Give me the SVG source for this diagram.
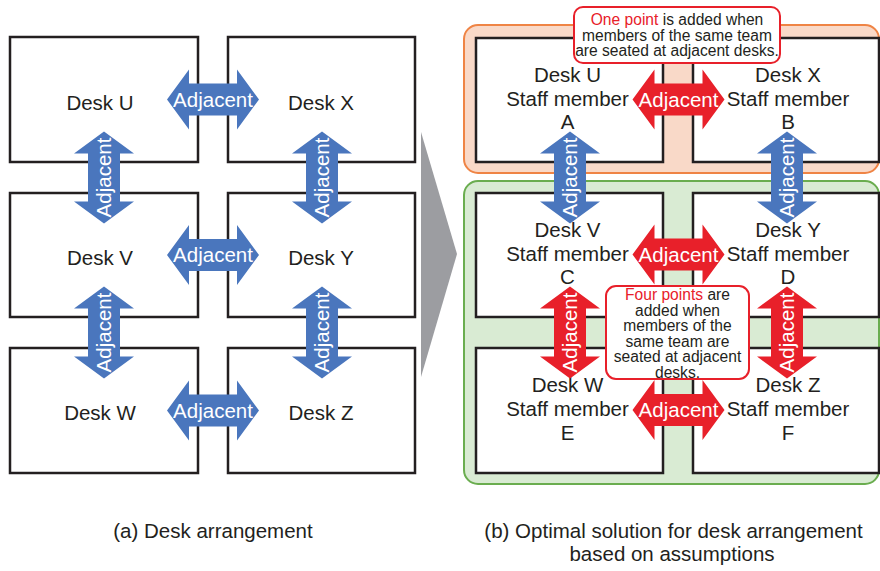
<svg xmlns="http://www.w3.org/2000/svg" xmlns:xlink="http://www.w3.org/1999/xlink" width="880" height="571" viewBox="0 0 880 571">
<style>
text{font-family:"Liberation Sans",Arial,Helvetica,sans-serif;fill:#231f20}
.desk{fill:#fff;stroke:#231f20;stroke-width:2.5}
.lbl{font-size:20.5px;text-anchor:middle}
.at{font-size:20.5px;fill:#fff;text-anchor:middle}
.blue{fill:#4a76bd}
.red{fill:#e8202a}
.call{fill:#fff;stroke:#e8202a;stroke-width:2}
.ct{font-size:15.6px;text-anchor:middle}
.rt{fill:#e8202a}
.cap{font-size:20.5px;text-anchor:middle}
</style>
<defs>
<path id="arr" d="M-46,0 L-24,-30 L-24,-16 L24,-16 L24,-30 L46,0 L24,30 L24,16 L-24,16 L-24,30 Z"/>
</defs>

<!-- Left panel desks -->
<g id="a-desk-u"><rect class="desk" x="10" y="37" width="188" height="125"/><text class="lbl" x="100" y="110">Desk U</text></g>
<g id="a-desk-x"><rect class="desk" x="228" y="37" width="187" height="125"/><text class="lbl" x="321" y="110">Desk X</text></g>
<g id="a-desk-v"><rect class="desk" x="10" y="193" width="188" height="124"/><text class="lbl" x="100" y="265">Desk V</text></g>
<g id="a-desk-y"><rect class="desk" x="228" y="193" width="187" height="124"/><text class="lbl" x="321" y="265">Desk Y</text></g>
<g id="a-desk-w"><rect class="desk" x="10" y="348" width="188" height="125"/><text class="lbl" x="100" y="420">Desk W</text></g>
<g id="a-desk-z"><rect class="desk" x="228" y="348" width="187" height="125"/><text class="lbl" x="321" y="420">Desk Z</text></g>

<!-- Left panel connectors -->
<g id="a-connectors">
<use href="#arr" class="blue" transform="translate(213,99.5)"/>
<text class="at" x="213" y="106.5">Adjacent</text>
<use href="#arr" class="blue" transform="translate(213,255)"/>
<text class="at" x="213" y="262">Adjacent</text>
<use href="#arr" class="blue" transform="translate(213,410.5)"/>
<text class="at" x="213" y="417.5">Adjacent</text>
<use href="#arr" class="blue" transform="translate(104,177.5) rotate(90)"/>
<text class="at" transform="translate(111,177.5) rotate(-90)">Adjacent</text>
<use href="#arr" class="blue" transform="translate(104,332.5) rotate(90)"/>
<text class="at" transform="translate(111,332.5) rotate(-90)">Adjacent</text>
<use href="#arr" class="blue" transform="translate(322,177.5) rotate(90)"/>
<text class="at" transform="translate(329,177.5) rotate(-90)">Adjacent</text>
<use href="#arr" class="blue" transform="translate(322,332.5) rotate(90)"/>
<text class="at" transform="translate(329,332.5) rotate(-90)">Adjacent</text>
</g>

<!-- Chevron -->
<polygon id="chevron" points="421,132 457,254 421,377" fill="#9c9da1"/>

<!-- Right panel team groups -->
<rect id="team-orange" x="464" y="25" width="415" height="148" rx="14" fill="#f9d9c8" stroke="#ef8445" stroke-width="2"/>
<rect id="team-green" x="464" y="181" width="415" height="303" rx="14" fill="#d9ebd3" stroke="#6aad4f" stroke-width="2"/>

<!-- Right panel desks -->
<g id="b-desk-u"><rect class="desk" x="476" y="38" width="187" height="124"/>
<text class="lbl" x="567.5" y="82">Desk U</text><text class="lbl" x="567.5" y="106">Staff member</text><text class="lbl" x="567.5" y="129">A</text></g>
<g id="b-desk-x"><rect class="desk" x="693" y="38" width="186" height="124"/>
<text class="lbl" x="788" y="82">Desk X</text><text class="lbl" x="788" y="106">Staff member</text><text class="lbl" x="788" y="129">B</text></g>
<g id="b-desk-v"><rect class="desk" x="476" y="193" width="187" height="124"/>
<text class="lbl" x="567.5" y="237">Desk V</text><text class="lbl" x="567.5" y="261">Staff member</text><text class="lbl" x="567.5" y="284">C</text></g>
<g id="b-desk-y"><rect class="desk" x="693" y="193" width="186" height="124"/>
<text class="lbl" x="788" y="237">Desk Y</text><text class="lbl" x="788" y="261">Staff member</text><text class="lbl" x="788" y="284">D</text></g>
<g id="b-desk-w"><rect class="desk" x="476" y="348" width="187" height="125"/>
<text class="lbl" x="567.5" y="392">Desk W</text><text class="lbl" x="567.5" y="416">Staff member</text><text class="lbl" x="567.5" y="440">E</text></g>
<g id="b-desk-z"><rect class="desk" x="693" y="348" width="186" height="125"/>
<text class="lbl" x="788" y="392">Desk Z</text><text class="lbl" x="788" y="416">Staff member</text><text class="lbl" x="788" y="440">F</text></g>

<!-- Right panel connectors -->
<g id="b-connectors">
<use href="#arr" class="red" transform="translate(678.5,99.5)"/>
<text class="at" x="678.5" y="106.5">Adjacent</text>
<use href="#arr" class="red" transform="translate(678.5,254.5)"/>
<text class="at" x="678.5" y="261.5">Adjacent</text>
<use href="#arr" class="red" transform="translate(678.5,410)"/>
<text class="at" x="678.5" y="417">Adjacent</text>
<use href="#arr" class="blue" transform="translate(570,177.5) rotate(90)"/>
<text class="at" transform="translate(577,177.5) rotate(-90)">Adjacent</text>
<use href="#arr" class="blue" transform="translate(787,177.5) rotate(90)"/>
<text class="at" transform="translate(794,177.5) rotate(-90)">Adjacent</text>
<use href="#arr" class="red" transform="translate(570,332.5) rotate(90)"/>
<text class="at" transform="translate(577,332.5) rotate(-90)">Adjacent</text>
<use href="#arr" class="red" transform="translate(787,332.5) rotate(90)"/>
<text class="at" transform="translate(794,332.5) rotate(-90)">Adjacent</text>
</g>

<!-- Callouts -->
<g id="callout-one">
<rect class="call" x="574" y="7" width="206" height="56" rx="9"/>
<text class="ct" x="677" y="25"><tspan class="rt">One point</tspan> is added when</text>
<text class="ct" x="677" y="40.5">members of the same team</text>
<text class="ct" x="677" y="56">are seated at adjacent desks.</text>
</g>
<g id="callout-four">
<rect class="call" x="606" y="286" width="143" height="93" rx="10"/>
<text class="ct" x="677.5" y="300"><tspan class="rt">Four points</tspan> are</text>
<text class="ct" x="677.5" y="315.5">added when</text>
<text class="ct" x="677.5" y="331">members of the</text>
<text class="ct" x="677.5" y="346.5">same team are</text>
<text class="ct" x="677.5" y="362">seated at adjacent</text>
<text class="ct" x="677.5" y="377.5">desks.</text>
</g>

<!-- Captions -->
<text class="cap" x="213" y="538">(a) Desk arrangement</text>
<text class="cap" x="673.5" y="538">(b) Optimal solution for desk arrangement</text>
<text class="cap" x="672" y="561">based on assumptions</text>
</svg>
